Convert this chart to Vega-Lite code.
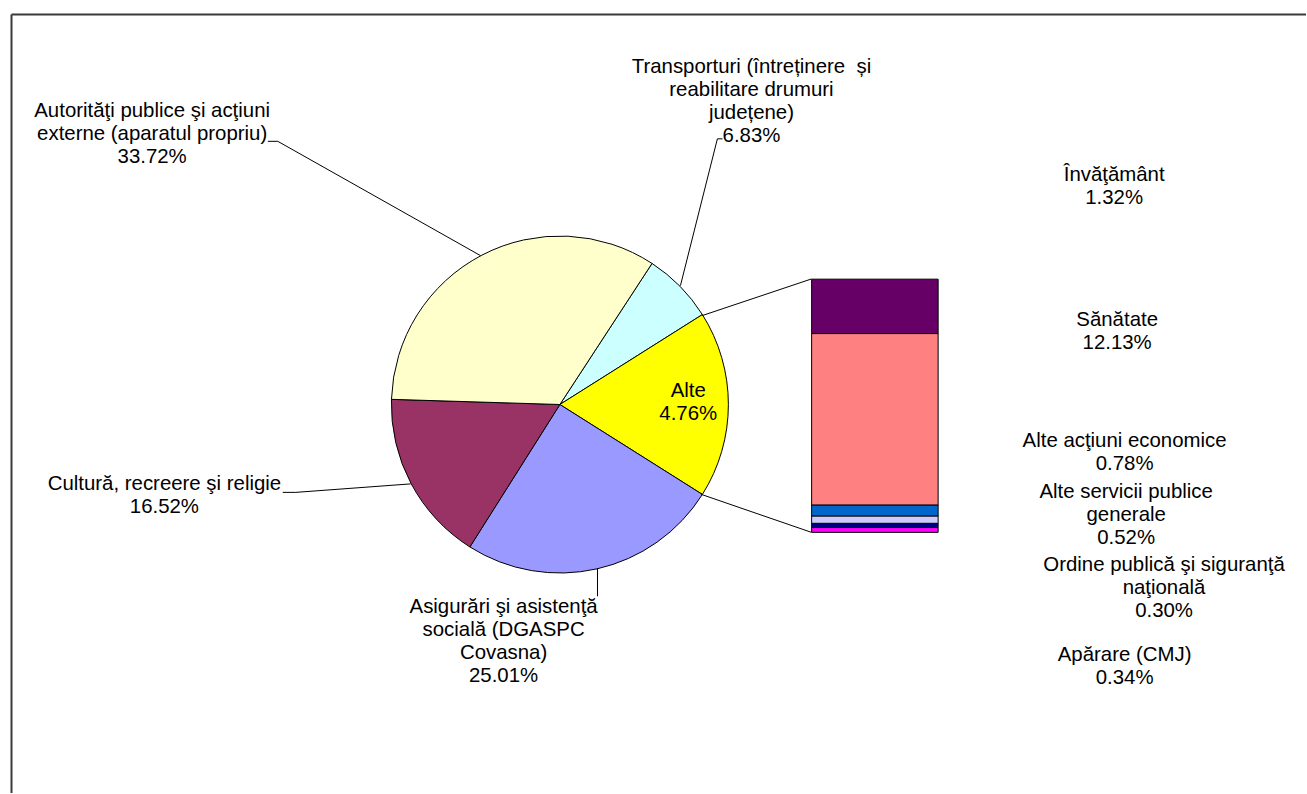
{
  "$schema": "https://vega.github.io/schema/vega-lite/v6.json",
  "width": 1307,
  "height": 794,
  "autosize": {"type": "fit", "contains": "padding"},
  "padding": 0,
  "background": "white",
  "config": {
    "view": {"stroke": null},
    "scale": {"continuousPadding": 0},
    "text": {"font": "Liberation Sans", "fontSize": 20.4, "lineHeight": 23, "lineBreak": "\n", "color": "black", "baseline": "alphabetic", "align": "center"}
  },
  "data": {
    "values": [
      {"id": "tra", "level": "pie", "k": 1, "value": 6.83, "label": "Transporturi (întreținere\u00a0 și\nreabilitare drumuri\njudețene)\n6.83%"},
      {"id": "alt", "level": "pie", "k": 2, "value": 17.92, "label": "Alte\n4.76%"},
      {"id": "asi", "level": "pie", "k": 3, "value": 25.01, "label": "Asigurări şi asistenţă\nsocială (DGASPC\nCovasna)\n25.01%"},
      {"id": "cul", "level": "pie", "k": 4, "value": 16.52, "label": "Cultură, recreere şi religie\n16.52%"},
      {"id": "aut", "level": "pie", "k": 5, "value": 33.72, "label": "Autorităţi publice şi acţiuni\nexterne (aparatul propriu)\n33.72%"},
      {"id": "apa", "level": "bar", "k": 1, "value": 0.34, "label": "Apărare (CMJ)\n0.34%"},
      {"id": "ord", "level": "bar", "k": 2, "value": 0.30, "label": "Ordine publică şi siguranţă\nnaţională\n0.30%"},
      {"id": "asp", "level": "bar", "k": 3, "value": 0.52, "label": "Alte servicii publice\ngenerale\n0.52%"},
      {"id": "aae", "level": "bar", "k": 4, "value": 0.78, "label": "Alte acţiuni economice\n0.78%"},
      {"id": "san", "level": "bar", "k": 5, "value": 12.13, "label": "Sănătate\n12.13%"},
      {"id": "inv", "level": "bar", "k": 6, "value": 3.85, "label": "Învăţământ\n1.32%"}
    ]
  },
  "resolve": {"scale": {"y": "independent"}},
  "layer": [
    {
      "layer": [
        {
          "transform": [{"filter": "datum.level === 'pie'"}],
          "mark": {"type": "arc", "outerRadius": 168.5, "stroke": "black", "strokeWidth": 1},
          "encoding": {
            "theta": {"field": "value", "type": "quantitative", "stack": true, "scale": {"range": [0.5786, 6.8618]}},
            "order": {"field": "k", "type": "quantitative"},
            "color": {
              "field": "id", "type": "nominal", "legend": null,
              "scale": {
                "domain": ["aut", "tra", "alt", "asi", "cul", "inv", "san", "aae", "asp", "ord", "apa"],
                "range": ["#FFFFCC", "#CCFFFF", "#FFFF00", "#9999FF", "#993366", "#660066", "#FF8080", "#0066CC", "#CCCCFF", "#000080", "#FF00FF"]
              }
            },
            "x": {"datum": 42.87, "type": "quantitative", "scale": {"domain": [0, 100], "nice": false, "zero": false, "padding": 0}, "axis": null},
            "y": {"datum": 51.01, "type": "quantitative", "scale": {"domain": [0, 100], "reverse": true, "nice": false, "zero": false, "padding": 0}, "axis": null}
          }
        },
        {"transform": [{"filter": "datum.id === 'aut'"}], "mark": {"type": "text"}, "encoding": {"text": {"field": "label"}, "x": {"datum": 11.65, "type": "quantitative"}, "y": {"datum": 14.80, "type": "quantitative"}}},
        {"transform": [{"filter": "datum.id === 'tra'"}], "mark": {"type": "text"}, "encoding": {"text": {"field": "label"}, "x": {"datum": 57.54, "type": "quantitative"}, "y": {"datum": 9.23, "type": "quantitative"}}},
        {"transform": [{"filter": "datum.id === 'cul'"}], "mark": {"type": "text"}, "encoding": {"text": {"field": "label"}, "x": {"datum": 12.59, "type": "quantitative"}, "y": {"datum": 61.84, "type": "quantitative"}}},
        {"transform": [{"filter": "datum.id === 'asi'"}], "mark": {"type": "text"}, "encoding": {"text": {"field": "label"}, "x": {"datum": 38.56, "type": "quantitative"}, "y": {"datum": 77.24, "type": "quantitative"}}},
        {"transform": [{"filter": "datum.id === 'alt'"}], "mark": {"type": "text"}, "encoding": {"text": {"field": "label"}, "x": {"datum": 52.70, "type": "quantitative"}, "y": {"datum": 50.0, "type": "quantitative"}}},
        {"transform": [{"filter": "datum.id === 'inv'"}], "mark": {"type": "text"}, "encoding": {"text": {"field": "label"}, "x": {"datum": 85.31, "type": "quantitative"}, "y": {"datum": 22.88, "type": "quantitative"}}},
        {"transform": [{"filter": "datum.id === 'san'"}], "mark": {"type": "text"}, "encoding": {"text": {"field": "label"}, "x": {"datum": 85.54, "type": "quantitative"}, "y": {"datum": 41.12, "type": "quantitative"}}},
        {"transform": [{"filter": "datum.id === 'aae'"}], "mark": {"type": "text"}, "encoding": {"text": {"field": "label"}, "x": {"datum": 86.11, "type": "quantitative"}, "y": {"datum": 56.36, "type": "quantitative"}}},
        {"transform": [{"filter": "datum.id === 'asp'"}], "mark": {"type": "text"}, "encoding": {"text": {"field": "label"}, "x": {"datum": 86.23, "type": "quantitative"}, "y": {"datum": 62.85, "type": "quantitative"}}},
        {"transform": [{"filter": "datum.id === 'ord'"}], "mark": {"type": "text"}, "encoding": {"text": {"field": "label"}, "x": {"datum": 89.13, "type": "quantitative"}, "y": {"datum": 71.98, "type": "quantitative"}}},
        {"transform": [{"filter": "datum.id === 'apa'"}], "mark": {"type": "text"}, "encoding": {"text": {"field": "label"}, "x": {"datum": 86.11, "type": "quantitative"}, "y": {"datum": 83.34, "type": "quantitative"}}},
        {"data": {"values": [{}]}, "mark": {"type": "rule", "color": "black", "strokeWidth": 1}, "encoding": {"x": {"datum": 20.51, "type": "quantitative"}, "x2": {"datum": 21.27}, "y": {"datum": 17.82, "type": "quantitative"}, "y2": {"datum": 17.82}}},
        {"data": {"values": [{}]}, "mark": {"type": "rule", "color": "black", "strokeWidth": 1}, "encoding": {"x": {"datum": 21.27, "type": "quantitative"}, "x2": {"datum": 36.80}, "y": {"datum": 17.82, "type": "quantitative"}, "y2": {"datum": 32.24}}},
        {"data": {"values": [{}]}, "mark": {"type": "rule", "color": "black", "strokeWidth": 1}, "encoding": {"x": {"datum": 55.32, "type": "quantitative"}, "x2": {"datum": 54.93}, "y": {"datum": 17.51, "type": "quantitative"}, "y2": {"datum": 17.51}}},
        {"data": {"values": [{}]}, "mark": {"type": "rule", "color": "black", "strokeWidth": 1}, "encoding": {"x": {"datum": 54.93, "type": "quantitative"}, "x2": {"datum": 52.10}, "y": {"datum": 17.51, "type": "quantitative"}, "y2": {"datum": 36.02}}},
        {"data": {"values": [{}]}, "mark": {"type": "rule", "color": "black", "strokeWidth": 1}, "encoding": {"x": {"datum": 21.65, "type": "quantitative"}, "x2": {"datum": 22.65}, "y": {"datum": 62.09, "type": "quantitative"}, "y2": {"datum": 62.09}}},
        {"data": {"values": [{}]}, "mark": {"type": "rule", "color": "black", "strokeWidth": 1}, "encoding": {"x": {"datum": 22.65, "type": "quantitative"}, "x2": {"datum": 31.45}, "y": {"datum": 62.09, "type": "quantitative"}, "y2": {"datum": 61.02}}},
        {"data": {"values": [{}]}, "mark": {"type": "rule", "color": "black", "strokeWidth": 1}, "encoding": {"x": {"datum": 45.75, "type": "quantitative"}, "x2": {"datum": 45.75}, "y": {"datum": 71.66, "type": "quantitative"}, "y2": {"datum": 75.19}}},
        {"data": {"values": [{}]}, "mark": {"type": "rule", "color": "black", "strokeWidth": 1}, "encoding": {"x": {"datum": 53.76, "type": "quantitative"}, "x2": {"datum": 62.13}, "y": {"datum": 39.80, "type": "quantitative"}, "y2": {"datum": 35.18}}},
        {"data": {"values": [{}]}, "mark": {"type": "rule", "color": "black", "strokeWidth": 1}, "encoding": {"x": {"datum": 53.69, "type": "quantitative"}, "x2": {"datum": 62.13}, "y": {"datum": 62.34, "type": "quantitative"}, "y2": {"datum": 67.13}}},
        {"data": {"values": [{}]}, "mark": {"type": "rule", "color": "#3a3a3a", "strokeWidth": 2}, "encoding": {"x": {"datum": 0.88, "type": "quantitative"}, "x2": {"datum": 100}, "y": {"datum": 1.82, "type": "quantitative"}, "y2": {"datum": 1.82}}},
        {"data": {"values": [{}]}, "mark": {"type": "rule", "color": "#3a3a3a", "strokeWidth": 2}, "encoding": {"x": {"datum": 0.88, "type": "quantitative"}, "x2": {"datum": 0.88}, "y": {"datum": 1.82, "type": "quantitative"}, "y2": {"datum": 100}}}
      ]
    },
    {
      "transform": [{"filter": "datum.level === 'bar'"}],
      "mark": {"type": "bar", "orient": "vertical", "width": 126.5, "stroke": "black", "strokeWidth": 1},
      "encoding": {
        "x": {"datum": 66.99, "type": "quantitative", "scale": {"padding": 0}},
        "y": {"field": "value", "type": "quantitative", "stack": "zero", "scale": {"domain": [-18.45, 37.68], "nice": false, "zero": false, "padding": 0}, "axis": null},
        "order": {"field": "k", "type": "quantitative"},
        "color": {"field": "id", "type": "nominal", "legend": null}
      }
    }
  ]
}
